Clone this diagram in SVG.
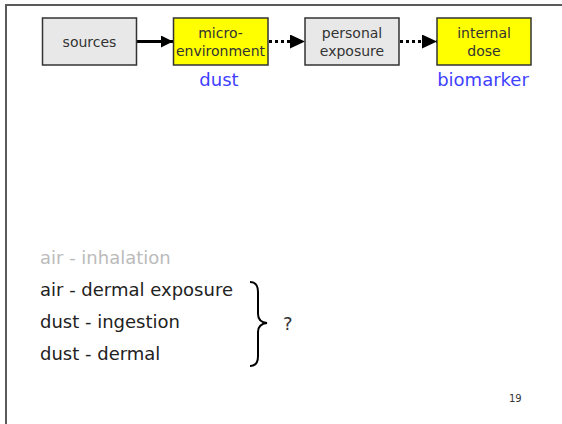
<svg xmlns="http://www.w3.org/2000/svg" width="562" height="424" viewBox="0 0 562 424">
<style>
.box{stroke:#333;stroke-width:1.5}
.gray{fill:#e8e8e8}
.yel{fill:#ffff00}
.bt{font-family:"DejaVu Sans",Verdana,sans-serif;font-size:14px;fill:#333;text-anchor:middle}
.blue{font-family:"DejaVu Sans",Verdana,sans-serif;font-size:18px;fill:#3f3fff;text-anchor:middle}
.lt{font-family:"DejaVu Sans",Verdana,sans-serif;font-size:18px;fill:#222}
.conn{fill:none;stroke:#000;stroke-width:3}
</style>
<defs>
<marker id="ah" markerUnits="userSpaceOnUse" markerWidth="16" markerHeight="14" refX="15" refY="7" orient="auto">
<path d="M0,0 L15,7 L0,14 Z" fill="#000"/>
</marker>
<marker id="ahs" markerUnits="userSpaceOnUse" markerWidth="13" markerHeight="12" refX="12" refY="6" orient="auto">
<path d="M0,0 L12,6 L0,12 Z" fill="#000"/>
</marker>
</defs>
<rect width="562" height="424" fill="#fff"/>
<path d="M6,424 V5 H562" fill="none" stroke="#5a5a5a" stroke-width="2"/>
<g id="connectors">
<line class="conn" x1="137" y1="41.5" x2="173" y2="41.5" stroke-width="2.5" marker-end="url(#ahs)"/>
<line class="conn" x1="269" y1="41.5" x2="305" y2="41.5" stroke-dasharray="3,3" marker-end="url(#ah)"/>
<line class="conn" x1="400" y1="41.5" x2="437" y2="41.5" stroke-dasharray="3,3" marker-end="url(#ah)"/>
</g>
<g id="sources">
<rect class="box gray" x="42.5" y="18" width="94" height="47"/>
<text class="bt" x="89.5" y="46.5">sources</text>
</g>
<g id="microenvironment">
<rect class="box yel" x="173.5" y="18" width="94.5" height="47"/>
<text class="bt" x="220.5" y="38">micro-</text>
<text class="bt" x="220.5" y="55.5">environment</text>
<text class="blue" x="219" y="86">dust</text>
</g>
<g id="personal">
<rect class="box gray" x="305" y="18" width="94" height="47"/>
<text class="bt" x="352" y="38">personal</text>
<text class="bt" x="352" y="55.5">exposure</text>
</g>
<g id="internal">
<rect class="box yel" x="437" y="18" width="94" height="47"/>
<text class="bt" x="484" y="38">internal</text>
<text class="bt" x="484" y="55.5">dose</text>
<text class="blue" x="483" y="86">biomarker</text>
</g>
<g id="routes">
<text class="lt" x="40" y="264" fill="#bbbbbb" style="fill:#bbbbbb">air - inhalation</text>
<text class="lt" x="40" y="296">air - dermal exposure</text>
<text class="lt" x="40" y="328">dust - ingestion</text>
<text class="lt" x="40" y="360">dust - dermal</text>
<path d="M250,282 Q258,282 258,292 L258,314 Q258,322 267,323 Q258,324 258,332 L258,356 Q258,366 250,366" fill="none" stroke="#000" stroke-width="2"/>
<text class="lt" x="283" y="330" style="fill:#333">?</text>
</g>
<text x="509" y="402" font-family="DejaVu Sans,Verdana,sans-serif" font-size="10" fill="#333">19</text>
</svg>
